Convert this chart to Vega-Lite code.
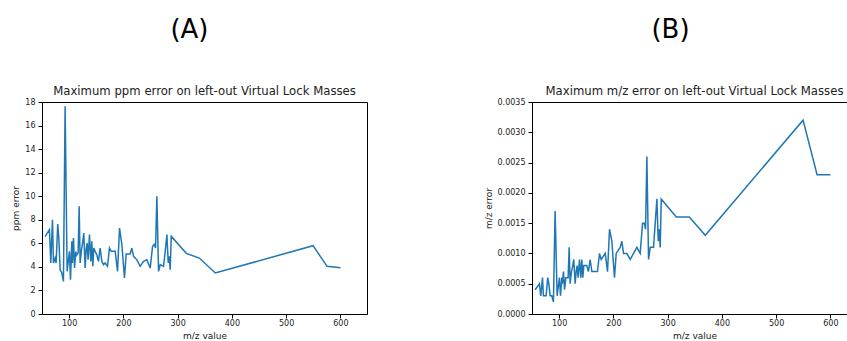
{
  "$schema": "https://vega.github.io/schema/vega-lite/v6.json",
  "autosize": {"type": "pad"},
  "padding": {"left": 11, "top": 16, "right": 0, "bottom": 0},
  "background": "white",
  "config": {
    "font": "DejaVu Sans",
    "view": {"stroke": "#000", "strokeWidth": 1},
    "axis": {"domainColor": "#000", "tickColor": "#000", "labelColor": "#222", "titleColor": "#222", "labelFontSize": 8, "titleFontSize": 9, "titleFontWeight": "normal", "grid": false, "tickSize": 4, "labelPadding": 3, "titlePadding": 4, "domainWidth": 1},
    "axisX": {"labelPadding": 1, "titlePadding": 4},
    "title": {"fontWeight": "normal", "color": "#000", "anchor": "middle"},
    "concat": {"spacing": 115}
  },
  "datasets": {
    "vlm": [
      {"mz": 55.7, "ppm": 6.57, "err": 0.0004},
      {"mz": 63.7, "ppm": 7.16, "err": 0.0005},
      {"mz": 66.2, "ppm": 4.33, "err": 0.0003},
      {"mz": 69.3, "ppm": 8.0, "err": 0.0006},
      {"mz": 71.1, "ppm": 4.33, "err": 0.0003},
      {"mz": 74.2, "ppm": 4.75, "err": 0.0003},
      {"mz": 76.0, "ppm": 4.33, "err": 0.0003},
      {"mz": 79.0, "ppm": 7.64, "err": 0.0006},
      {"mz": 81.0, "ppm": 6.45, "err": 0.0005},
      {"mz": 83.4, "ppm": 3.76, "err": 0.0003},
      {"mz": 86.5, "ppm": 3.48, "err": 0.0003},
      {"mz": 89.5, "ppm": 2.77, "err": 0.0002},
      {"mz": 92.6, "ppm": 17.63, "err": 0.0017},
      {"mz": 96.3, "ppm": 3.62, "err": 0.0003},
      {"mz": 100.6, "ppm": 5.32, "err": 0.0006},
      {"mz": 102.5, "ppm": 2.92, "err": 0.0003},
      {"mz": 105.0, "ppm": 6.17, "err": 0.0006},
      {"mz": 106.0, "ppm": 4.33, "err": 0.0005},
      {"mz": 108.0, "ppm": 6.45, "err": 0.0007},
      {"mz": 110.0, "ppm": 3.9, "err": 0.0004},
      {"mz": 112.3, "ppm": 5.3, "err": 0.0006},
      {"mz": 114.0, "ppm": 5.0, "err": 0.0006},
      {"mz": 116.6, "ppm": 5.2, "err": 0.0006},
      {"mz": 118.5, "ppm": 9.14, "err": 0.0011},
      {"mz": 120.3, "ppm": 4.33, "err": 0.0005},
      {"mz": 122.8, "ppm": 5.46, "err": 0.0007},
      {"mz": 125.2, "ppm": 6.17, "err": 0.0008},
      {"mz": 127.0, "ppm": 6.88, "err": 0.0009},
      {"mz": 129.5, "ppm": 3.9, "err": 0.0005},
      {"mz": 131.4, "ppm": 5.46, "err": 0.0007},
      {"mz": 133.2, "ppm": 6.03, "err": 0.0008},
      {"mz": 135.0, "ppm": 4.6, "err": 0.0006},
      {"mz": 137.5, "ppm": 6.74, "err": 0.0009},
      {"mz": 140.0, "ppm": 4.47, "err": 0.0006},
      {"mz": 141.8, "ppm": 6.17, "err": 0.0009},
      {"mz": 143.7, "ppm": 4.05, "err": 0.0006},
      {"mz": 145.5, "ppm": 5.6, "err": 0.0008},
      {"mz": 148.0, "ppm": 5.32, "err": 0.0008},
      {"mz": 151.0, "ppm": 5.04, "err": 0.0008},
      {"mz": 154.0, "ppm": 4.47, "err": 0.0007},
      {"mz": 157.2, "ppm": 5.6, "err": 0.0009},
      {"mz": 160.3, "ppm": 4.47, "err": 0.0007},
      {"mz": 163.3, "ppm": 4.19, "err": 0.0007},
      {"mz": 166.4, "ppm": 4.33, "err": 0.0007},
      {"mz": 170.7, "ppm": 4.05, "err": 0.0007},
      {"mz": 174.4, "ppm": 5.6, "err": 0.001},
      {"mz": 177.5, "ppm": 5.32, "err": 0.0009},
      {"mz": 184.9, "ppm": 5.32, "err": 0.001},
      {"mz": 189.2, "ppm": 3.62, "err": 0.0007},
      {"mz": 192.9, "ppm": 7.3, "err": 0.0014},
      {"mz": 197.2, "ppm": 5.89, "err": 0.0012},
      {"mz": 202.0, "ppm": 3.06, "err": 0.0006},
      {"mz": 205.2, "ppm": 5.1, "err": 0.001},
      {"mz": 212.5, "ppm": 5.1, "err": 0.0011},
      {"mz": 215.6, "ppm": 5.6, "err": 0.0012},
      {"mz": 218.7, "ppm": 4.9, "err": 0.001},
      {"mz": 224.8, "ppm": 4.6, "err": 0.001},
      {"mz": 231.0, "ppm": 4.05, "err": 0.0009},
      {"mz": 237.1, "ppm": 4.47, "err": 0.001},
      {"mz": 243.3, "ppm": 4.6, "err": 0.0011},
      {"mz": 249.4, "ppm": 3.9, "err": 0.001},
      {"mz": 253.8, "ppm": 5.75, "err": 0.0015},
      {"mz": 256.8, "ppm": 5.9, "err": 0.0015},
      {"mz": 259.3, "ppm": 5.6, "err": 0.0014},
      {"mz": 261.7, "ppm": 10.0, "err": 0.0026},
      {"mz": 264.8, "ppm": 3.62, "err": 0.0009},
      {"mz": 267.9, "ppm": 4.19, "err": 0.0011},
      {"mz": 274.0, "ppm": 4.05, "err": 0.0011},
      {"mz": 277.1, "ppm": 5.32, "err": 0.0015},
      {"mz": 280.2, "ppm": 6.74, "err": 0.0019},
      {"mz": 282.7, "ppm": 4.33, "err": 0.0012},
      {"mz": 284.5, "ppm": 4.9, "err": 0.0014},
      {"mz": 286.3, "ppm": 3.76, "err": 0.0011},
      {"mz": 288.2, "ppm": 6.6, "err": 0.0019},
      {"mz": 315.9, "ppm": 5.15, "err": 0.0016},
      {"mz": 339.9, "ppm": 4.75, "err": 0.0016},
      {"mz": 369.4, "ppm": 3.48, "err": 0.0013},
      {"mz": 549.6, "ppm": 5.8, "err": 0.0032},
      {"mz": 575.4, "ppm": 4.05, "err": 0.0023},
      {"mz": 600.0, "ppm": 3.92, "err": 0.0023}
    ]
  },
  "hconcat": [
    {
      "title": {"text": "(A)", "fontSize": 26, "offset": 43},
      "vconcat": [
        {
          "width": 325,
          "height": 212,
          "title": {"text": "Maximum ppm error on left-out Virtual Lock Masses", "fontSize": 11.7, "color": "#222", "offset": 0},
          "data": {"name": "vlm"},
          "mark": {"type": "line", "color": "#1f77b4", "strokeWidth": 1.5},
          "encoding": {
            "x": {"field": "mz", "type": "quantitative", "sort": null, "scale": {"domain": [50, 649], "nice": false, "zero": false}, "axis": {"title": "m/z value", "values": [100, 200, 300, 400, 500, 600]}},
            "y": {"field": "ppm", "type": "quantitative", "scale": {"domain": [0, 18], "nice": false}, "axis": {"title": "ppm error", "values": [0, 2, 4, 6, 8, 10, 12, 14, 16, 18]}}
          }
        }
      ]
    },
    {
      "title": {"text": "(B)", "fontSize": 26, "offset": 43},
      "vconcat": [
        {
          "width": 325,
          "height": 212,
          "title": {"text": "Maximum m/z error on left-out Virtual Lock Masses", "fontSize": 11.7, "color": "#222", "offset": 0},
          "data": {"name": "vlm"},
          "mark": {"type": "line", "color": "#1f77b4", "strokeWidth": 1.5},
          "encoding": {
            "x": {"field": "mz", "type": "quantitative", "sort": null, "scale": {"domain": [50, 649], "nice": false, "zero": false}, "axis": {"title": "m/z value", "values": [100, 200, 300, 400, 500, 600]}},
            "y": {"field": "err", "type": "quantitative", "scale": {"domain": [0, 0.0035], "nice": false}, "axis": {"title": "m/z error", "format": ".4f", "values": [0, 0.0005, 0.001, 0.0015, 0.002, 0.0025, 0.003, 0.0035]}}
          }
        }
      ]
    }
  ]
}
